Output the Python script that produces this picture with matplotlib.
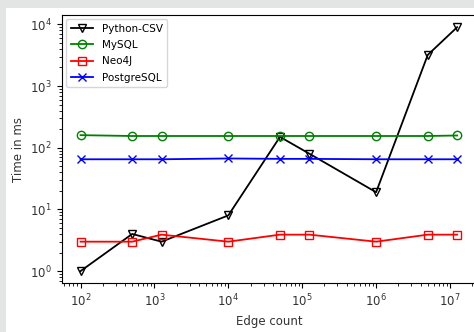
import matplotlib
matplotlib.use("Agg")
import matplotlib.pyplot as plt
from matplotlib.patches import Rectangle

# edge counts used in the benchmark runs
edges = [100, 500, 1250, 10000, 50000, 125000, 1000000, 5000000, 12500000]

# query times in ms
python_csv = [1, 4, 3, 8, 150, 80, 19, 3200, 9000]
mysql = [160, 155, 155, 155, 155, 155, 155, 155, 158]
neo4j = [3, 3, 3.9, 3, 3.9, 3.9, 3, 3.9, 3.9]
postgres = [65, 65, 65, 67, 66, 66, 65, 65, 65]

W, H = 474, 332
fig = plt.figure(figsize=(W / 100, H / 100), dpi=100, facecolor="#e3e5e5")
# white page area inside the grey frame
fig.patches.append(Rectangle((6 / W, 0), 1, 1 - 8 / H, transform=fig.transFigure,
                             facecolor="white", edgecolor="none", zorder=-10))

ax = fig.add_axes([61.7 / W, 48.7 / H, (476 - 61.7) / W, (283.3 - 15) / H])
ax.set_zorder(1)

style = dict(linewidth=1.3, markersize=6, markeredgewidth=1.0)
ax.plot(edges, python_csv, color="black", marker="v", fillstyle="none", label="Python-CSV", **style)
ax.plot(edges, mysql, color="green", marker="o", fillstyle="none", label="MySQL", **style)
ax.plot(edges, neo4j, color="red", marker="s", fillstyle="none", label="Neo4J", **style)
ax.plot(edges, postgres, color="blue", marker="x", label="PostgreSQL", **style)

ax.set_xscale("log")
ax.set_yscale("log")
ax.set_xlabel("Edge count", fontsize=8.5, color="#333333")
ax.set_ylabel("Time in ms", fontsize=8.5, color="#333333")
ax.tick_params(labelsize=8.5, labelcolor="#333333")
ax.legend(loc="upper left", fontsize=7.5, handlelength=2.2, borderpad=0.45,
          labelspacing=0.6, borderaxespad=0.4)

fig.savefig("out.png", dpi=100, facecolor=fig.get_facecolor())
